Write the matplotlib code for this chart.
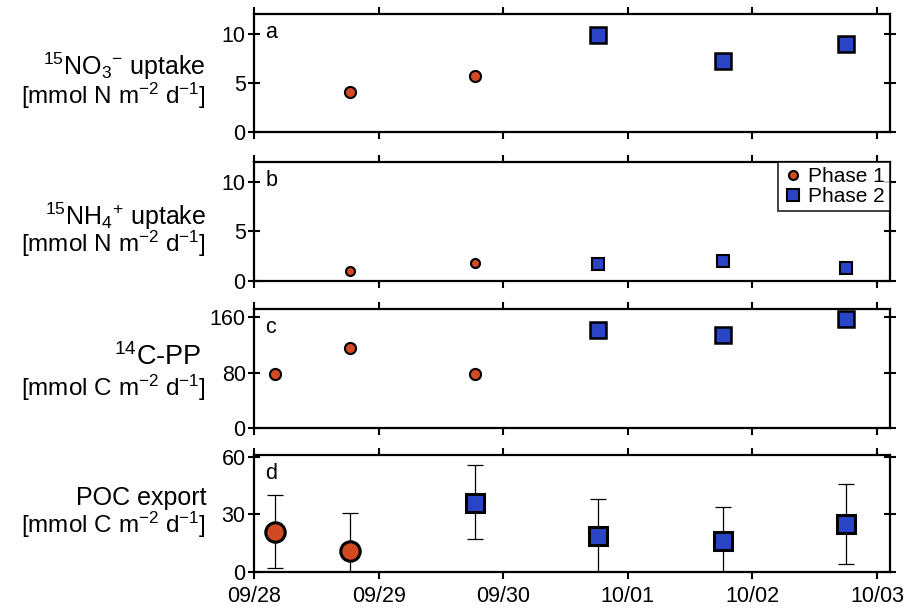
import numpy as np
import pandas as pd
import matplotlib
matplotlib.use("Agg")
import matplotlib.pyplot as plt
import matplotlib.dates as mdates

plt.rcParams["font.family"] = ["Liberation Sans", "DejaVu Sans"]
plt.rcParams["mathtext.fontset"] = "custom"
plt.rcParams["mathtext.rm"] = "Liberation Sans"
plt.rcParams["mathtext.it"] = "Liberation Sans"
plt.rcParams["mathtext.bf"] = "Liberation Sans"

# Sampling times (phase 1 / phase 2)
t_phase1 = pd.to_datetime(["2019-09-28 04:00", "2019-09-28 18:30", "2019-09-29 18:30"])
t_phase2 = pd.to_datetime(["2019-09-30 18:15", "2019-10-01 18:15", "2019-10-02 18:00"])

# a: 15NO3- uptake (first cast has no value)
no3_p1 = [np.nan, 4.1, 5.7]
no3_p2 = [9.9, 7.2, 8.9]

# b: 15NH4+ uptake
nh4_p1 = [np.nan, 1.0, 1.8]
nh4_p2 = [1.7, 2.0, 1.3]

# c: 14C-PP
pp_p1 = [78, 116, 78]
pp_p2 = [141, 135, 158]

# d: POC export (phase 1 = first two, phase 2 = last four)
t_poc1 = t_phase1[:2]
t_poc2 = pd.DatetimeIndex([t_phase1[2]]).append(t_phase2)
poc_p1 = [21, 11]
poc_p1_lo = [2, 0]
poc_p1_hi = [40, 31]
poc_p2 = [36, 19, 16, 25]
poc_p2_lo = [17, 0, 0, 4]
poc_p2_hi = [56, 38, 34, 46]

xticks = pd.date_range("2019-09-28", "2019-10-03", freq="D")

orange = "#d24a22"
blue = "#2a44c6"

fig = plt.figure(figsize=(9.07, 6.13), dpi=100)
left, right = 254 / 907, 890 / 907
tops = [14, 162, 309, 455]
bottoms = [132, 281, 428, 572]
axes = []
for t, b in zip(tops, bottoms):
    ax = fig.add_axes([left, 1 - b / 613, right - left, (b - t) / 613])
    axes.append(ax)
ax1, ax2, ax3, ax4 = axes

ax1.plot(t_phase1, no3_p1, "o", color=orange, mec="black", mew=1.5, ms=8)
ax1.plot(t_phase2, no3_p2, "s", color=blue, mec="black", mew=1.8, ms=12)

ax2.plot(t_phase1, nh4_p1, "o", color=orange, mec="black", mew=1.5, ms=6.5, label="Phase 1")
ax2.plot(t_phase2, nh4_p2, "s", color=blue, mec="black", mew=1.5, ms=8, label="Phase 2")

ax3.plot(t_phase1, pp_p1, "o", color=orange, mec="black", mew=1.5, ms=8)
ax3.plot(t_phase2, pp_p2, "s", color=blue, mec="black", mew=1.8, ms=12)

err1 = [np.array(poc_p1) - np.array(poc_p1_lo), np.array(poc_p1_hi) - np.array(poc_p1)]
err2 = [np.array(poc_p2) - np.array(poc_p2_lo), np.array(poc_p2_hi) - np.array(poc_p2)]
ax4.errorbar(t_poc1, poc_p1, yerr=err1, fmt="none", ecolor="black", elinewidth=0.9,
             capsize=5.5, capthick=0.9, zorder=1)
ax4.errorbar(t_poc2, poc_p2, yerr=err2, fmt="none", ecolor="black", elinewidth=0.9,
             capsize=5.5, capthick=0.9, zorder=1)
ax4.plot(t_poc1, poc_p1, "o", color=orange, mec="black", mew=2.2, ms=14, zorder=3)
ax4.plot(t_poc2, poc_p2, "s", color=blue, mec="black", mew=2.2, ms=12.5, zorder=3)

ylims = [(0, 12), (0, 12), (0, 172), (0, 61)]
yticks = [[0, 5, 10], [0, 5, 10], [0, 80, 160], [0, 30, 60]]
letters = ["a", "b", "c", "d"]
for ax, yl, yt, let in zip(axes, ylims, yticks, letters):
    ax.set_ylim(*yl)
    ax.set_yticks(yt)
    ax.set_xlim(xticks[0], xticks[-1] + pd.Timedelta(hours=2.5))
    ax.set_xticks(xticks)
    ax.xaxis.set_major_formatter(mdates.DateFormatter("%m/%d"))
    ax.tick_params(axis="both", which="major", direction="out", length=5, width=1.5,
                   labelsize=15.5, top=True, right=True, pad=2)
    ax.tick_params(axis="y", direction="inout", length=8)
    for s in ax.spines.values():
        s.set_linewidth(1.6)
    ax.text(0.018, 0.93, let, transform=ax.transAxes, fontsize=15.5, va="top", ha="left")
    if ax is not ax4:
        ax.tick_params(labelbottom=False)

ax4.tick_params(axis="x", pad=5)

leg = ax2.legend(loc="upper right", fontsize=15, frameon=True, fancybox=False,
                 edgecolor="black", handletextpad=0.2, borderpad=0.25,
                 labelspacing=0.05, handlelength=1.0, borderaxespad=0.0)
leg.get_frame().set_linewidth(1.3)

# y labels on the left, right aligned, positioned by baseline
lx = 206 / 907
unit_N = r"[mmol N m$\mathregular{^{-2}}$ d$\mathregular{^{-1}}$]"
unit_C = r"[mmol C m$\mathregular{^{-2}}$ d$\mathregular{^{-1}}$]"
kw1 = dict(ha="right", va="baseline", fontsize=18)
kw2 = dict(ha="right", va="baseline", fontsize=17.5)
fig.text(lx, 1 - 75 / 613, r"$\mathregular{^{15}NO_3{}^{-}}$ uptake", **kw1)
fig.text(lx, 1 - 104 / 613, unit_N, **kw2)
fig.text(lx, 1 - 225 / 613, r"$\mathregular{^{15}NH_4{}^{+}}$ uptake", **kw1)
fig.text(lx, 1 - 252 / 613, unit_N, **kw2)
fig.text(201 / 907, 1 - 365 / 613, r"$\mathregular{^{14}}$C-PP", ha="right", va="baseline", fontsize=19.5)
fig.text(lx, 1 - 396 / 613, unit_C, **kw2)
fig.text(lx, 1 - 505 / 613, "POC export", **kw1)
fig.text(lx, 1 - 533 / 613, unit_C, **kw2)

fig.savefig("out.png", dpi=100)
